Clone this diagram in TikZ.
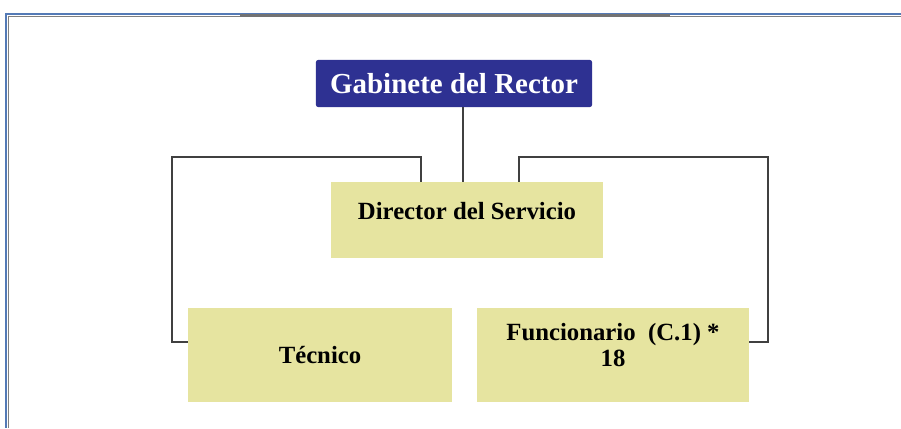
\documentclass[tikz,border=0pt]{standalone}
\usepackage{fontspec}
\setmainfont{Liberation Serif}
\definecolor{gabblue}{RGB}{46,49,146}
\definecolor{boxyellow}{RGB}{230,228,160}
\definecolor{framblue}{RGB}{84,122,182}
\begin{document}
\begin{tikzpicture}[
  x=0.025cm, y=-0.025cm,
  font=\bfseries\fontsize{17.6}{18}\selectfont,
  top/.style={fill=gabblue, text=white, rounded corners=1.5pt, minimum width=6.9cm, minimum height=1.175cm, inner sep=0pt, font=\bfseries\fontsize{20.6}{22}\selectfont},
  ybox/.style={fill=boxyellow, minimum height=2.35cm, inner sep=0pt, align=center},
  conn/.style={draw=black!75, line width=1.1pt}
]
  \useasboundingbox (0,0) rectangle (901,428);
  % marco
  \draw[framblue, line width=1.6pt] (901,14) -- (6,14) -- (6,428);
  \draw[gray, line width=0.8pt] (901,16.5) -- (8.5,16.5) -- (8.5,428);
  \draw[black!55, line width=2pt] (240,15.5) -- (670,15.5);
  % nodos
  \node[top]  (gab) at (454,83.5) {Gabinete del Rector};
  \node[ybox, minimum width=6.8cm, minimum height=1.9cm, text depth=0.45cm] (dir) at (467,220) {Director del Servicio};
  \node[ybox, minimum width=6.575cm] (tec) at (320,355) {Técnico};
  \node[ybox, minimum width=6.8cm, text depth=0.5cm] (fun) at (613,355) {Funcionario\ \ (C.1) *\\ 18};
  \coordinate (lt) at (172,157);
  \coordinate (rt) at (768,157);
  % lineas
  \draw[conn] ([xshift=0.225cm]gab.south) -- ([xshift=0.225cm]gab.south |- dir.north);
  \draw[conn] ([xshift=-1.15cm]dir.north) |- (lt) |- ([yshift=0.325cm]tec.west);
  \draw[conn] ([xshift=1.3cm]dir.north) |- (rt) |- ([yshift=0.325cm]fun.east);
\end{tikzpicture}
\end{document}
